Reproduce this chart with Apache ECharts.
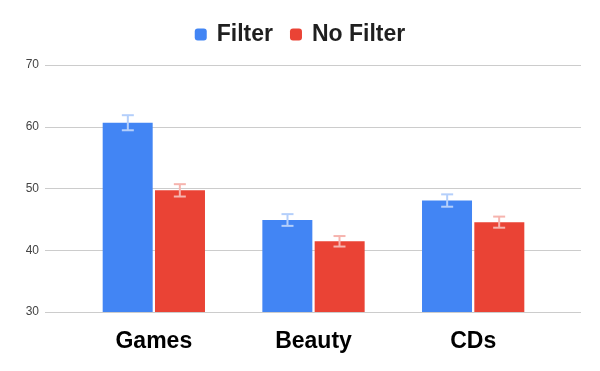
<!DOCTYPE html>
<html>
<head>
<meta charset="utf-8">
<script src="https://cdn.jsdelivr.net/npm/echarts@6/dist/echarts.min.js"></script>
<style>
    html,body{margin:0;padding:0;background:#fff;}
    #chart{width:600px;height:371px;}
</style>
</head>
<body>
<div id="chart"></div>
<script>
    var categories = ['Games', 'Beauty', 'CDs'];
    var filterValues = [60.65, 44.9, 48.05];
    var noFilterValues = [49.7, 41.45, 44.55];
    var filterErrors = [1.22, 0.95, 1.0];
    var noFilterErrors = [1.0, 0.85, 0.9];
    var yTicks = [30, 40, 50, 60, 70];

    var chart = echarts.init(document.getElementById('chart'));

    // error bars drawn next to each bar (offset = half bar width + half gap)
    function errorBar(values, errors, offset, color){
        return {
            type: 'custom',
            xAxisIndex: 0,
            yAxisIndex: 0,
            z: 10,
            data: values.map(function(v, i){ return [i, v - errors[i], v + errors[i]]; }),
            renderItem: function(params, api){
                var low = api.coord([api.value(0), api.value(1)]);
                var high = api.coord([api.value(0), api.value(2)]);
                var x = low[0] + offset;
                var half = 6;
                var style = {stroke: color, lineWidth: 2};
                return {
                    type: 'group',
                    children: [
                        {type: 'line', shape: {x1: x, y1: high[1], x2: x, y2: low[1]}, style: style},
                        {type: 'line', shape: {x1: x - half, y1: high[1], x2: x + half, y2: high[1]}, style: style},
                        {type: 'line', shape: {x1: x - half, y1: low[1], x2: x + half, y2: low[1]}, style: style}
                    ]
                };
            }
        };
    }

    var option = {
        animation: false,
        legend: {
            top: 18,
            left: 'center',
            itemWidth: 12,
            itemHeight: 12,
            itemGap: 17,
            icon: 'roundRect',
            textStyle: {fontFamily: 'Liberation Sans', fontSize: 23, fontWeight: 'bold', color: '#1f1f1f', padding: [0, 0, 0, 5]},
            data: ['Filter', 'No Filter']
        },
        grid: [
            {left: 74, right: 47, top: 65, bottom: 59},
            {left: 45, right: 19, top: 65, bottom: 59}
        ],
        xAxis: [
            {
                type: 'category',
                gridIndex: 0,
                data: categories,
                axisLine: {show: false},
                axisTick: {show: false},
                axisLabel: {margin: 18, fontFamily: 'Liberation Sans', fontSize: 23, fontWeight: 'bold', color: '#000'}
            },
            {
                type: 'category',
                gridIndex: 1,
                data: categories,
                show: false
            }
        ],
        yAxis: [
            {
                type: 'value',
                gridIndex: 0,
                min: yTicks[0],
                max: yTicks[yTicks.length - 1],
                interval: 10,
                show: false
            },
            {
                type: 'value',
                gridIndex: 1,
                min: yTicks[0],
                max: yTicks[yTicks.length - 1],
                interval: 10,
                axisLine: {show: false},
                axisTick: {show: false},
                axisLabel: {margin: 6, fontFamily: 'Liberation Sans', fontSize: 12, color: '#444'},
                splitLine: {lineStyle: {color: '#cccccc', width: 1}}
            }
        ],
        series: [
            {
                name: 'Filter',
                type: 'bar',
                xAxisIndex: 0,
                yAxisIndex: 0,
                barWidth: 50,
                barGap: '4.6%',
                itemStyle: {color: '#4285f4'},
                data: filterValues
            },
            {
                name: 'No Filter',
                type: 'bar',
                xAxisIndex: 0,
                yAxisIndex: 0,
                barWidth: 50,
                barGap: '4.6%',
                itemStyle: {color: '#ea4335'},
                data: noFilterValues
            },
            errorBar(filterValues, filterErrors, -26, '#b4cffb'),
            errorBar(noFilterValues, noFilterErrors, 26, '#f6b4ae')
        ]
    };

    chart.setOption(option);
    window.addEventListener('resize', chart.resize);
</script>
</body>
</html>
